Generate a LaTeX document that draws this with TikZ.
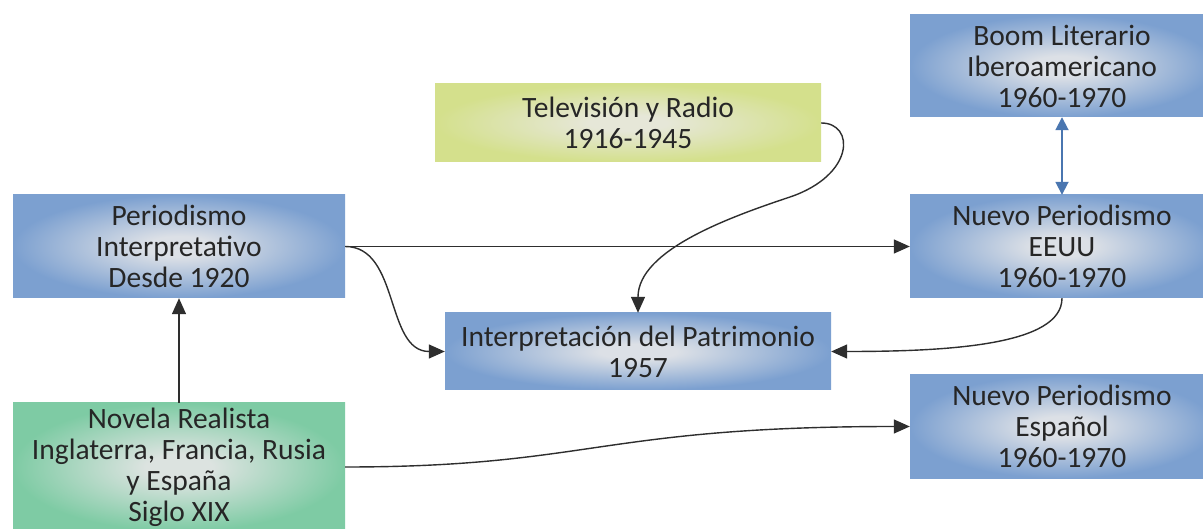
\documentclass[tikz,border=0pt]{standalone}
\usepackage{fontspec}
\setmainfont{Carlito}
\usetikzlibrary{arrows.meta}
\definecolor{txt}{HTML}{262626}
\definecolor{blueedge}{HTML}{7CA0D0}
\definecolor{bluecenter}{HTML}{DCE0E6}
\definecolor{greenedge}{HTML}{7ECBA4}
\definecolor{greencenter}{HTML}{DCE3E0}
\definecolor{yellowedge}{HTML}{D4E08C}
\definecolor{yellowcenter}{HTML}{E6E7D8}
\definecolor{linkblue}{HTML}{4A76B0}
\definecolor{linkgray}{HTML}{2E2E2E}
\pgfdeclareradialshading{blueshade}{\pgfpoint{0bp}{0bp}}{color(0bp)=(bluecenter); color(5bp)=(bluecenter); color(25bp)=(blueedge); color(50bp)=(blueedge)}
\pgfdeclareradialshading{greenshade}{\pgfpoint{0bp}{0bp}}{color(0bp)=(greencenter); color(5bp)=(greencenter); color(25bp)=(greenedge); color(50bp)=(greenedge)}
\pgfdeclareradialshading{yellowshade}{\pgfpoint{0bp}{0bp}}{color(0bp)=(yellowcenter); color(5bp)=(yellowcenter); color(25bp)=(yellowedge); color(50bp)=(yellowedge)}
\tikzset{
  boxbase/.style={rectangle, inner sep=0pt, align=center, text=txt,
    font=\fontsize{29.5}{31}\selectfont},
  bluebox/.style={boxbase, shading=blueshade},
  greenbox/.style={boxbase, shading=greenshade},
  yellowbox/.style={boxbase, shading=yellowshade},
  arr/.style={draw=linkgray, line width=1.4pt, -{Triangle[length=16pt,width=14pt]}},
  barr/.style={draw=linkblue, line width=1.8pt, {Triangle[length=13pt,width=13pt]}-{Triangle[length=13pt,width=13pt]}},
}
\begin{document}
\begin{tikzpicture}[x=1pt,y=-1pt]
\useasboundingbox (0,0) rectangle (1203,529);
\fill[white] (0,0) rectangle (1203,529);
% nodes
\node[bluebox, minimum width=332pt, minimum height=103pt] (per) at (179,246.5) {Periodismo\\Interpretativo\\Desde 1920};
\node[greenbox, minimum width=332pt, minimum height=128pt] (nov) at (179,467) {Novela Realista\\Inglaterra, Francia, Rusia\\y España\\Siglo XIX};
\node[yellowbox, minimum width=386pt, minimum height=78pt] (tv) at (628,123) {Televisión y Radio\\1916-1945};
\node[bluebox, minimum width=386pt, minimum height=77pt] (int) at (638,351.5) {Interpretación del Patrimonio\\1957};
\node[bluebox, minimum width=304pt, minimum height=102pt] (boom) at (1062,66) {Boom Literario\\Iberoamericano\\1960-1970};
\node[bluebox, minimum width=304pt, minimum height=103pt] (eeuu) at (1062,246.5) {Nuevo Periodismo\\EEUU\\1960-1970};
\node[bluebox, minimum width=304pt, minimum height=103pt] (esp) at (1062,426.5) {Nuevo Periodismo\\Español\\1960-1970};
% connectors
\draw[arr] (nov.north) -- (per.south);
\draw[arr] (per.east) -- (eeuu.west);
\draw[arr] (per.east) .. controls (400,246.5) and (385,351.5) .. (int.west);
\draw[arr] (tv.east) .. controls (855,123) and (855,175) .. (790,197)
  .. controls (730,217) and (638,250) .. (int.north);
\draw[arr] (eeuu.south) .. controls (1062,345) and (950,351.5) .. (int.east);
\draw[arr] (nov.east) .. controls (590,467) and (600,426.5) .. (esp.west);
\draw[barr] (boom.south) -- (eeuu.north);
\end{tikzpicture}
\end{document}
